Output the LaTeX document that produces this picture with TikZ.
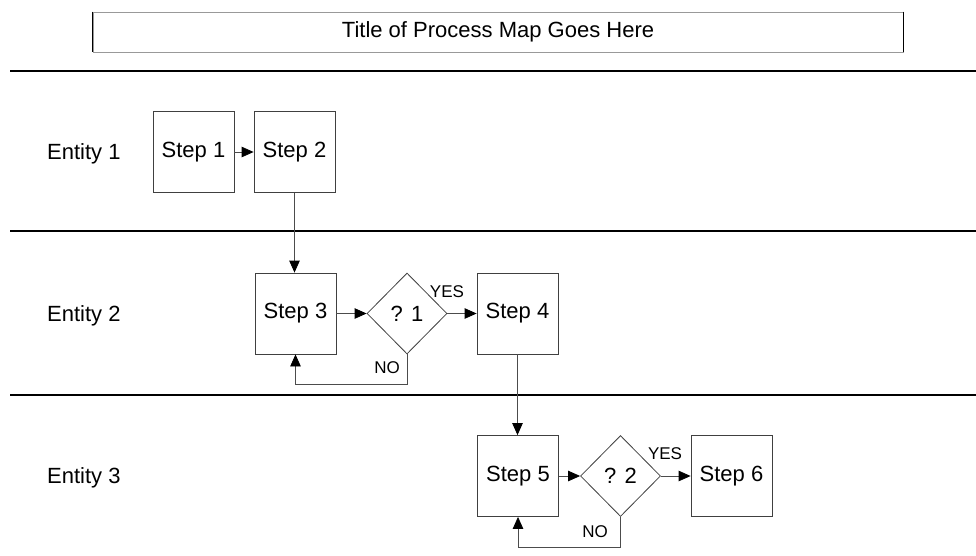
\documentclass[tikz,border=0pt]{standalone}
\usepackage{fontspec}
\setmainfont{Liberation Sans}
\usetikzlibrary{shapes.geometric,arrows.meta}
\begin{document}
\begin{tikzpicture}[x=1pt,y=-1pt,
  big/.style={font=\fontsize{22}{26}\selectfont},
  stepbox/.style={big,draw=black!75,line width=0.8pt,minimum width=81pt,minimum height=81pt,inner sep=0pt},
  decision/.style={big,diamond,draw=black!75,line width=0.8pt,minimum width=80pt,minimum height=81pt,inner sep=0pt},
  entity/.style={big,anchor=base west,inner sep=0pt},
  answer/.style={font=\fontsize{17}{20}\selectfont,inner sep=0pt},
  flow/.style={draw=black!70,line width=0.8pt,-{Triangle[length=12pt,width=10.5pt,color=black]}},
  lane/.style={line width=2.6pt},
]
\useasboundingbox (0,0) rectangle (976,555);

% title banner
\node[big,draw=black!40,line width=0.6pt,minimum width=810pt,minimum height=40pt,inner sep=0pt] (title) at (498,32) {Title of Process Map Goes Here};
\draw[line width=1pt] (title.north west) -- (title.south west);
\draw[line width=1.6pt] (title.north east) -- (title.south east);

% swim-lane separators
\coordinate (l1a) at (10,71);  \coordinate (l1b) at (976,71);
\coordinate (l2a) at (10,231); \coordinate (l2b) at (976,231);
\coordinate (l3a) at (10,395); \coordinate (l3b) at (976,395);
\draw[lane] (l1a) -- (l1b);
\draw[lane] (l2a) -- (l2b);
\draw[lane] (l3a) -- (l3b);

% lane names
\node[entity] (e1) at (47,159.5) {Entity 1};
\node[entity] (e2) at (47,321) {Entity 2};
\node[entity] (e3) at (47,483.5) {Entity 3};

% process steps and decisions
\node[stepbox] (s1) at (193.5,152) {Step 1};
\node[stepbox] (s2) at (294.5,152) {Step 2};
\node[stepbox] (s3) at (295.5,313.5) {Step 3};
\node[decision] (d1) at (407,313.5) {? 1};
\node[stepbox] (s4) at (517.5,313.5) {Step 4};
\node[stepbox] (s5) at (518,476) {Step 5};
\node[decision] (d2) at (620.5,476) {? 2};
\node[stepbox] (s6) at (731.5,476) {Step 6};

% flow
\draw[flow] (s1) -- (s2);
\draw[flow] (s2.south) -- (s2.south |- s3.north);
\draw[flow] (s3) -- (d1);
\draw[flow] (d1) -- (s4);
\draw[flow] (d1.south) -- ++(0,30) -| (s3.south);
\draw[flow] (s4.south) -- (s4.south |- s5.north);
\draw[flow] (s5) -- (d2);
\draw[flow] (d2) -- (s6);
\draw[flow] (d2.south) -- ++(0,30) -| (s5.south);

% decision outcomes
\node[answer] (y1) at (447,292) {YES};
\node[answer] (n1) at (387,368) {NO};
\node[answer] (y2) at (665,454) {YES};
\node[answer] (n2) at (595,532) {NO};
\end{tikzpicture}
\end{document}
